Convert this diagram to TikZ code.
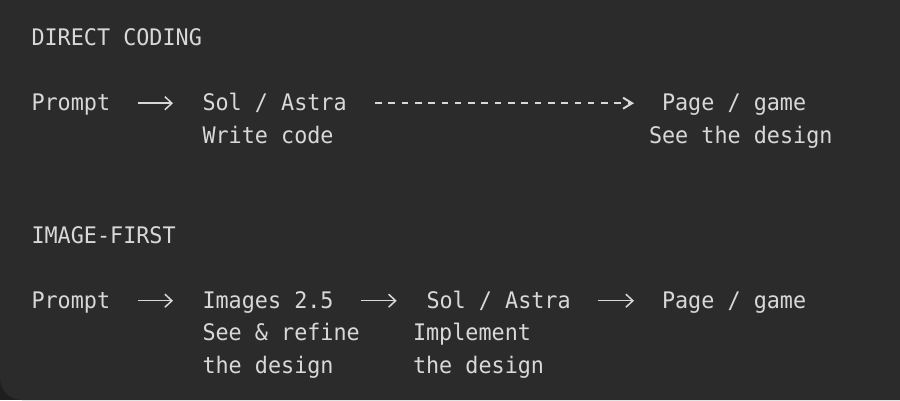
\documentclass[tikz,border=0pt]{standalone}
\usepackage{fontspec}
\newfontfamily\monofont[FakeStretch=0.955]{DejaVu Sans Mono}
\usetikzlibrary{arrows.meta}
\definecolor{bgc}{HTML}{2B2B2B}
\definecolor{outc}{HTML}{1E1E1E}
\definecolor{txt}{HTML}{D8D8D8}
\begin{document}
\begin{tikzpicture}[x=1pt,y=-1pt,
  lbl/.style={anchor=base west, inner sep=0pt, outer sep=0pt, text=txt,
    font=\monofont\fontsize{22.8}{27}\selectfont},
  arr/.style={draw=txt, line width=1.5pt,
    -{Straight Barb[length=7pt,width=13pt,line width=1.5pt]}},
  darr/.style={draw=txt, line width=2.2pt, dash pattern=on 6.6pt off 6.7pt,
    -{Straight Barb[length=9pt,width=11pt,line width=2pt]}}]
\useasboundingbox (0,0) rectangle (900,400);
\clip (0,0) rectangle (900,400);
\fill[outc] (0,0) rectangle (900,400);
\fill[bgc, rounded corners=22pt] (0,-40) rectangle (940,400);

% DIRECT CODING
\node[lbl] (h1) at (31.5,45.7) {DIRECT CODING};
\node[lbl] (p1) at (31.5,110.5) {Prompt};
\node[lbl] (s1) at (202.5,110.5) {Sol / Astra};
\node[lbl] (c1) at (202.5,143) {Write code};
\node[lbl] (g1) at (662,110.5) {Page / game};
\node[lbl] (d1) at (649,143) {See the design};

% IMAGE-FIRST
\node[lbl] (h2) at (31.5,243) {IMAGE-FIRST};
\node[lbl] (p2) at (31.5,308) {Prompt};
\node[lbl] (i2) at (202.5,308) {Images 2.5};
\node[lbl] (e2a) at (202.5,340.7) {See \& refine};
\node[lbl] (e2b) at (202.5,373.3) {the design};
\node[lbl] (s2) at (426.5,308) {Sol / Astra};
\node[lbl] (m2a) at (413,340.7) {Implement};
\node[lbl] (m2b) at (413,373.3) {the design};
\node[lbl] (g2) at (662,308) {Page / game};

% connectors
\draw[arr, shorten <=27.8pt, shorten >=29.5pt]
  ([yshift=7.3pt]p1.base east) -- ([yshift=7.3pt]s1.base west);
\draw[darr, shorten <=28.3pt, shorten >=28pt]
  ([yshift=7.3pt]s1.base east) -- ([yshift=7.3pt]g1.base west);
\draw[arr, shorten <=27.8pt, shorten >=29.5pt]
  ([yshift=7.3pt]p2.base east) -- ([yshift=7.3pt]i2.base west);
\draw[arr, shorten <=27.4pt, shorten >=29.8pt]
  ([yshift=7.3pt]i2.base east) -- ([yshift=7.3pt]s2.base west);
\draw[arr, shorten <=27pt, shorten >=28pt]
  ([yshift=7.3pt]s2.base east) -- ([yshift=7.3pt]g2.base west);
\end{tikzpicture}
\end{document}
